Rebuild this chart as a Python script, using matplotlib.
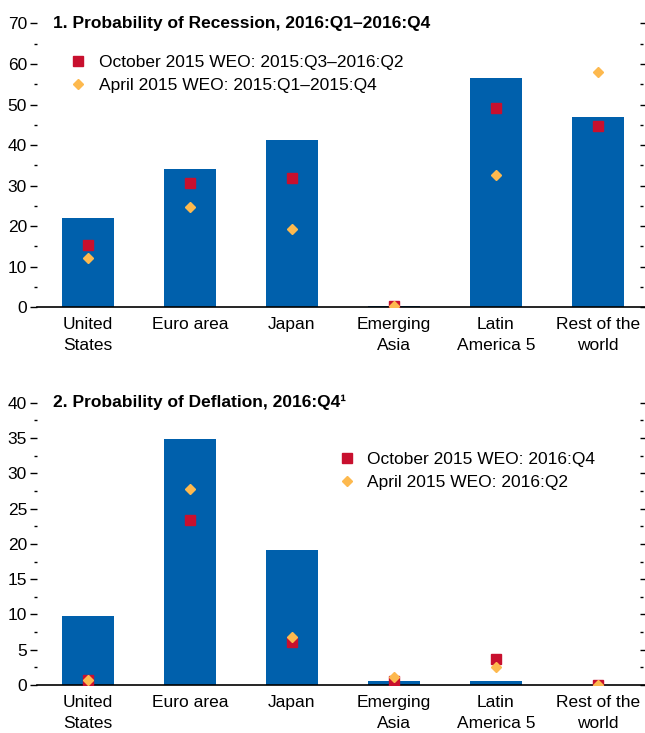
import matplotlib
matplotlib.use("Agg")
import matplotlib.pyplot as plt
import numpy as np

plt.rcParams["font.family"] = ["Liberation Sans", "DejaVu Sans"]

regions = ["United\nStates", "Euro area", "Japan", "Emerging\nAsia",
           "Latin\nAmerica 5", "Rest of the\nworld"]

# panel 1: probability of recession
recession_now = [21.9, 34.1, 41.3, 0.25, 56.5, 46.8]
recession_oct15 = [15.4, 30.7, 31.8, 0.3, 49.1, 44.6]
recession_apr15 = [12.1, 24.8, 19.2, 0.3, 32.7, 58.0]

# panel 2: probability of deflation
deflation_now = [9.8, 34.9, 19.15, 0.6, 0.6, 0.0]
deflation_oct15 = [0.75, 23.4, 6.1, 0.5, 3.7, 0.0]
deflation_apr15 = [0.66, 27.8, 6.75, 1.2, 2.6, 0.0]

BLUE = "#0060ac"
RED = "#c8102e"
GOLD = "#fdb94e"
FS = 12.5


def _panel(ax, bars, oct_vals, apr_vals, ymax, major, minor, title,
           oct_label, apr_label, legend_xy):
    x = np.arange(len(regions))
    ax.bar(x, bars, width=0.51, color=BLUE, zorder=1)
    ax.plot(x, oct_vals, "s", color=RED, markersize=7.5, linestyle="none",
            label=oct_label, zorder=3)
    ax.plot(x, apr_vals, "D", color=GOLD, markersize=5.5, linestyle="none",
            label=apr_label, zorder=4)
    ax.axhline(0, xmax=1.01, color="black", linewidth=1.2, zorder=2,
               clip_on=False)

    ax.set_xlim(-0.5, 5.41)
    ax.set_ylim(0, ymax)
    ax.set_yticks(np.arange(0, ymax + 0.1, major))
    ax.set_yticks(np.arange(0, ymax + 0.1, minor), minor=True)
    ax.set_xticks(x)
    ax.set_xticklabels(regions, fontsize=FS, linespacing=1.55)

    for side in ["top", "bottom", "left", "right"]:
        ax.spines[side].set_visible(False)
    ax.tick_params(axis="x", length=0, pad=7)
    ax.tick_params(axis="y", which="major", direction="out", length=5,
                   width=1, labelsize=FS, pad=2, right=True)
    ax.tick_params(axis="y", which="minor", direction="out", length=2,
                   width=1, right=True)

    ax.text(0.027, ymax, title, fontsize=FS, fontweight="bold",
            transform=ax.get_yaxis_transform(), va="center", ha="left")
    ax.legend(loc="upper left", bbox_to_anchor=legend_xy, frameon=False,
              fontsize=FS, handletextpad=0.6, labelspacing=0.45,
              borderaxespad=0, handlelength=1.2)


fig = plt.figure(figsize=(6.45, 7.33), dpi=100)
ax1 = fig.add_axes([0.057, 0.581, 0.935, 0.387])
ax2 = fig.add_axes([0.057, 0.0655, 0.935, 0.385])

_panel(ax1, recession_now, recession_oct15, recession_apr15, 70, 10, 5,
       "1. Probability of Recession, 2016:Q1\u20132016:Q4",
       "October 2015 WEO: 2015:Q3\u20132016:Q2",
       "April 2015 WEO: 2015:Q1\u20132015:Q4", (0.04, 0.915))
_panel(ax2, deflation_now, deflation_oct15, deflation_apr15, 40, 5, 2.5,
       "2. Probability of Deflation, 2016:Q4\u00b9",
       "October 2015 WEO: 2016:Q4",
       "April 2015 WEO: 2016:Q2", (0.485, 0.85))

fig.savefig("out.png", dpi=100)
